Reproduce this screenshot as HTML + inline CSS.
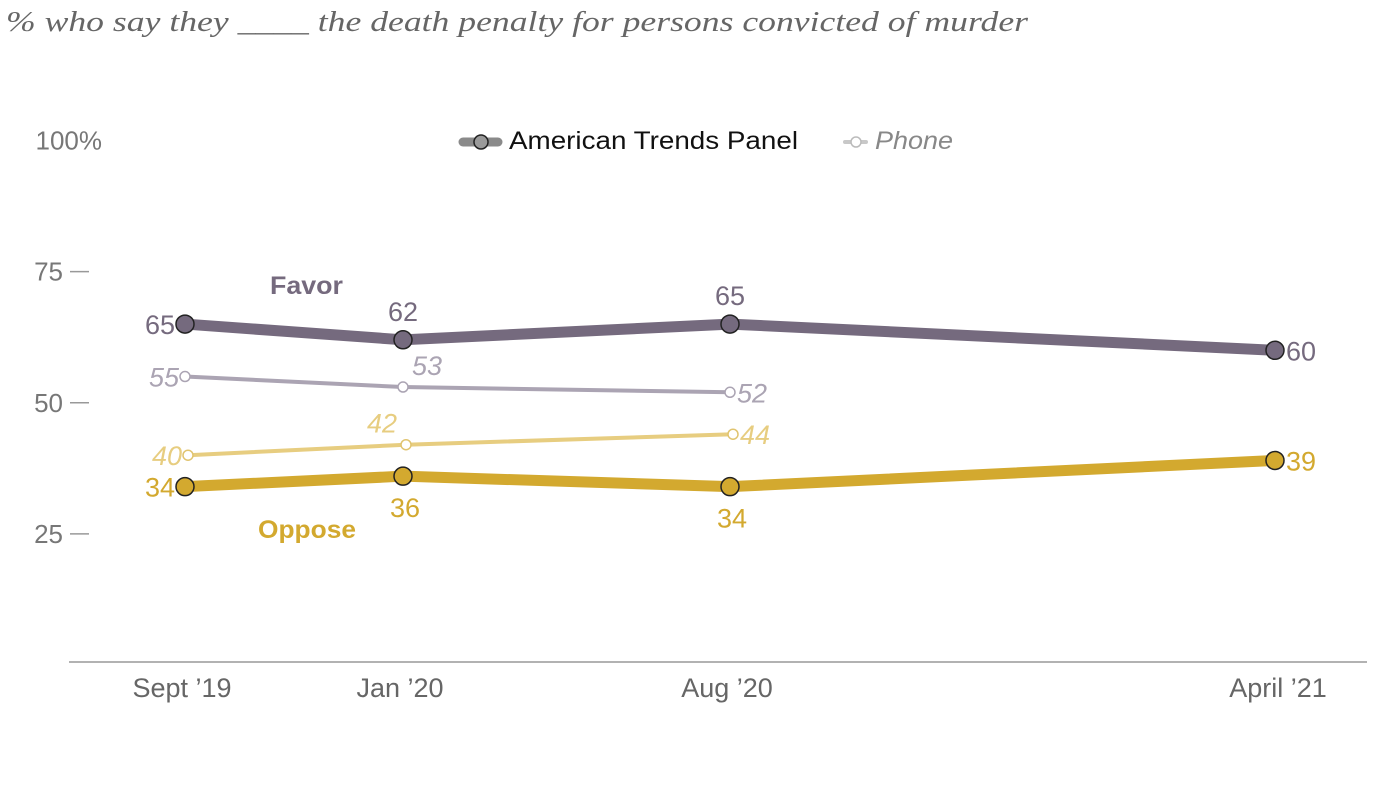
<!DOCTYPE html>
<html><head><meta charset="utf-8"><style>
body{margin:0;background:#fff;width:1400px;height:789px;overflow:hidden}
svg{display:block}
text{font-family:"Liberation Sans",sans-serif}
</style></head><body>
<svg id="c" width="1400" height="789">
<text x="6" y="31" font-style="italic" font-size="28" fill="#666" textLength="1022" lengthAdjust="spacingAndGlyphs" style="font-family:'Liberation Serif',serif">% who say they ____ the death penalty for persons convicted of murder</text>
<g id="axes"></g>
<g id="marks"></g>
<g>
<line x1="463" y1="142" x2="498" y2="142" stroke="#8a8a8a" stroke-width="9" stroke-linecap="round"/>
<circle cx="481" cy="142" r="7" fill="#9a9a9a" stroke="#222" stroke-width="1.5"/>
<text x="509" y="149" font-size="25" fill="#111" textLength="289" lengthAdjust="spacingAndGlyphs">American Trends Panel</text>
<line x1="845" y1="142" x2="866" y2="142" stroke="#c8c8c8" stroke-width="4" stroke-linecap="round"/>
<circle cx="856" cy="142" r="5" fill="#fff" stroke="#bbb" stroke-width="1.5"/>
<text x="875" y="149" font-size="25" font-style="italic" fill="#888" textLength="78" lengthAdjust="spacingAndGlyphs">Phone</text>
</g>
<text x="270" y="294" font-size="25" font-weight="bold" fill="#756a7e" textLength="73" lengthAdjust="spacingAndGlyphs">Favor</text>
<text x="258" y="538" font-size="25" font-weight="bold" fill="#d3a92f" textLength="98" lengthAdjust="spacingAndGlyphs">Oppose</text>
</svg>
<script>
// x values: survey wave position (months-ish index)
const waves=["Sept \u201919","Jan \u201920","Aug \u201920","April \u201921"];
const waveX=[0,4,10,20];
const atpFavor=[65,62,65,60];
const atpOppose=[34,36,34,39];
const phoneFavor=[55,53,52];
const phoneOppose=[40,42,44];
const yTicks=[25,50,75,100];
const yTickLabels=["25","50","75","100%"];
const NS="http://www.w3.org/2000/svg";
const X=v=>185+v*54.5;
const Y=v=>665-v*5.245;
function mk(p,tag,a){const e=document.createElementNS(NS,tag);for(const k in a)e.setAttribute(k,a[k]);p.appendChild(e);return e;}
const axes=document.getElementById('axes'),marks=document.getElementById('marks');
const base=mk(axes,'line',{x1:69,x2:1367,y1:662,y2:662,stroke:'#999','stroke-width':1.5});


yTicks.forEach((t,i)=>{
  const tx=mk(axes,'text',{x:i==3?102:63,y:Y(t)+9,'text-anchor':'end','font-size':26,fill:'#777'});
  tx.textContent=yTickLabels[i];
  
  
  if(i<3){const l=mk(axes,'line',{x1:70,x2:89,y1:Y(t),y2:Y(t),stroke:'#999','stroke-width':1.5});
  
  }
});
waves.forEach((w,i)=>{
  const tx=mk(axes,'text',{x:X(waveX[i])-3+(i==3?6:0),y:697,'text-anchor':'middle','font-size':27,fill:'#666'});
  tx.textContent=w;
  
  
});
function series(vals,name,color,w,r,fill,stroke,off,italic,lblCol,lblPos,aboveDx){
  const pts=vals.map((v,i)=>[X(waveX[i])+off,Y(v)]);
  const pl=mk(marks,'polyline',{points:pts.map(p=>p.join(',')).join(' '),fill:'none',stroke:color,'stroke-width':w,'stroke-linejoin':'round'});
  
  
  pts.forEach((p,i)=>{
    const c=mk(marks,'circle',{cx:p[0],cy:p[1],r:r,fill:fill,stroke:stroke,'stroke-width':1.5});
    
    
    const pos=lblPos[i];let a={'font-size':27,fill:lblCol};
    if(italic)a['font-style']='italic';
    if(pos=='l'){a.x=p[0]-r-1;a.y=p[1]+10;a['text-anchor']='end';}
    else if(pos=='r'){a.x=p[0]+r+2;a.y=p[1]+10;}
    else if(pos=='a'){a.x=p[0]+aboveDx;a.y=p[1]-(italic?12:19);a['text-anchor']='middle';}
    else {a.x=p[0]+2;a.y=p[1]+41;a['text-anchor']='middle';}
    const t=mk(marks,'text',a);t.textContent=vals[i];
    
    
  });
}
series(phoneFavor,'phone-favor','#aba4b3',4,5,'#fff','#aba4b3',0,true,'#aba4b3',['l','a','r'],24);
series(phoneOppose,'phone-oppose','#e7cd80',4,5,'#fff','#e0c470',3,true,'#e7cd80',['l','a','r'],-24);
series(atpFavor,'atp-favor','#756a7e',11,9,'#756a7e','#222',0,false,'#756a7e',['l','a','a','r'],0);
series(atpOppose,'atp-oppose','#d3a92f',11,9,'#d3a92f','#222',0,false,'#d3a92f',['l','b','b','r'],0);
</script>
</body></html>
